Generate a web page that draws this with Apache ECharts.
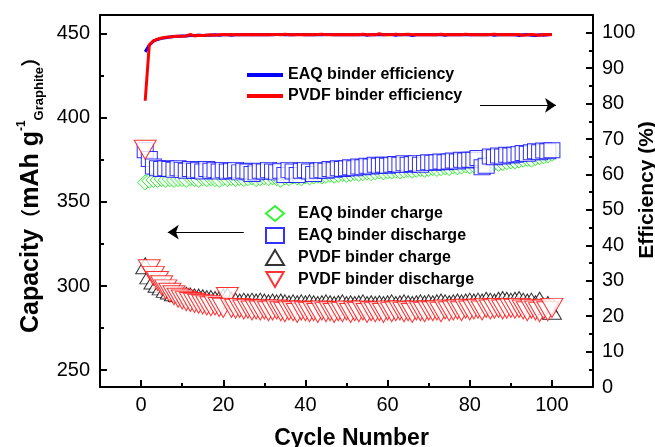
<!DOCTYPE html>
<html>
<head>
<meta charset="utf-8">
<script src="https://cdn.jsdelivr.net/npm/echarts@6/dist/echarts.min.js"></script>
<style>
html, body { margin: 0; padding: 0; background: #fff; }
#chart { width: 655px; height: 447px; }
</style>
</head>
<body>
<div id="chart"></div>
<script>
// cycle numbers
var cycles = [1, 2, 3, 4, 5, 6, 7, 8, 9, 10, 11, 12, 13, 14, 15, 16, 17, 18, 19, 20,
    21, 22, 23, 24, 25, 26, 27, 28, 29, 30, 31, 32, 33, 34, 35, 36, 37, 38, 39, 40,
    41, 42, 43, 44, 45, 46, 47, 48, 49, 50, 51, 52, 53, 54, 55, 56, 57, 58, 59, 60,
    61, 62, 63, 64, 65, 66, 67, 68, 69, 70, 71, 72, 73, 74, 75, 76, 77, 78, 79, 80,
    81, 82, 83, 84, 85, 86, 87, 88, 89, 90, 91, 92, 93, 94, 95, 96, 97, 98, 99, 100];

// coulombic efficiency (%)
var eaqEff = [94.6, 96.5, 97.6, 98.1, 98.4, 98.6, 98.8, 98.9, 99.0, 99.1,
    99.1, 99.2, 99.2, 99.3, 99.2, 99.3, 99.3, 99.4, 99.3, 99.4,
    99.4, 99.3, 99.4, 99.5, 99.4, 99.4, 99.5, 99.4, 99.5, 99.4,
    99.5, 99.4, 99.5, 99.5, 99.4, 99.5, 99.4, 99.5, 99.5, 99.4,
    99.5, 99.4, 99.5, 99.4, 99.5, 99.5, 99.4, 99.5, 99.4, 99.5,
    99.4, 99.5, 99.4, 99.5, 99.3, 99.5, 99.4, 99.5, 99.4, 99.5,
    99.5, 99.3, 99.5, 99.4, 99.5, 99.2, 99.4, 99.5, 99.4, 99.5,
    99.4, 99.5, 99.4, 99.3, 99.5, 99.4, 99.5, 99.4, 99.5, 99.4,
    99.5, 99.4, 99.5, 99.4, 99.5, 99.3, 99.4, 99.5, 99.4, 99.5,
    99.4, 99.2, 99.4, 99.5, 99.3, 99.2, 99.4, 99.3, 99.4, 99.5];
var pvdfEff = [80.8, 96.6, 97.7, 98.2, 98.5, 98.7, 98.8, 98.9, 99.0, 99.0,
    99.1, 99.5, 99.1, 99.3, 99.2, 99.3, 99.4, 99.3, 99.4, 99.5,
    99.4, 99.5, 99.4, 99.5, 99.4, 99.5, 99.4, 99.5, 99.4, 99.5,
    99.4, 99.5, 99.5, 99.4, 99.6, 99.4, 99.5, 99.4, 99.5, 99.4,
    99.5, 99.4, 99.5, 99.6, 99.4, 99.5, 99.4, 99.5, 99.4, 99.5,
    99.4, 99.5, 99.4, 99.6, 99.4, 99.5, 99.4, 99.7, 99.4, 99.5,
    99.4, 99.6, 99.4, 99.5, 99.6, 99.4, 99.5, 99.4, 99.5, 99.4,
    99.5, 99.4, 99.6, 99.4, 99.5, 99.4, 99.5, 99.4, 99.6, 99.4,
    99.5, 99.4, 99.5, 99.4, 99.5, 99.6, 99.4, 99.5, 99.4, 99.5,
    99.4, 99.5, 99.3, 99.4, 99.5, 99.4, 99.3, 99.5, 99.4, 99.5];

// capacity (mAh g-1)
var eaqCharge = [361.5, 362.5, 363, 363, 363.5, 363, 363.5, 363, 363.5, 363.5,
    363, 364, 363.5, 363, 364, 363.5, 364, 363.5, 363, 364,
    363.5, 364, 363.5, 364, 363.5, 364, 364.5, 363.5, 364, 364.5,
    364, 364.5, 364, 363, 364.5, 364, 365, 364.5, 364, 365,
    364.5, 365, 365.5, 365, 365.5, 366, 365.5, 366, 366.5, 366,
    366.5, 367, 366.5, 367, 367.5, 367, 367.5, 368, 367.5, 368,
    368, 368.5, 368, 368.5, 369, 368.5, 369, 369.5, 369, 369.5,
    370, 369.5, 370, 370.5, 370, 371, 370.5, 371, 371.5, 371,
    371.5, 372, 371.5, 372.5, 372, 373, 372.5, 373, 373.5, 374,
    374, 374.5, 375, 375.5, 375, 376, 376.5, 377, 377.5, 378.5];
var eaqDischarge = [380.6, 375.5, 371, 370, 369.5, 370, 369.5, 369, 370, 369,
    368.5, 369.5, 368.5, 369, 368, 369.5, 368.5, 369, 368, 369,
    368, 368.5, 369, 367.5, 368.5, 368, 366.5, 367.5, 368.5, 368,
    369, 368, 367.5, 368.5, 366, 369, 368, 366, 368.5, 369,
    368, 366.5, 368.5, 369, 368.5, 369.5, 369, 370, 369.5, 370,
    370.5, 370, 371, 370.5, 371.5, 371, 372, 371.5, 372, 371.5,
    372, 372.5, 372, 373, 372, 372.5, 373, 372, 373, 373.5,
    373, 373.5, 374, 373.5, 374, 374.5, 374, 375, 374.5, 375,
    375, 376, 370.5, 371.5, 377, 376.5, 377.5, 377, 378, 377.5,
    378, 378.5, 379, 378.5, 379.5, 380, 379.5, 380.5, 380, 380.6];
var pvdfCharge = [312, 306, 303, 301, 299.5, 298, 297, 296, 295.5, 295,
    294.5, 294, 293.5, 293.5, 293, 292.5, 292.5, 292, 292, 293.5,
    294, 291.5, 291, 290.5, 291, 290.5, 291, 290.5, 291, 290.5,
    290, 290.5, 290, 290.5, 290, 289.5, 290, 289.5, 290, 289.5,
    290, 289.5, 289, 289.5, 290, 289.5, 289, 289.5, 290, 289,
    289.5, 289, 289.5, 290, 289, 289.5, 289, 289.5, 289, 289.5,
    290, 289, 289.5, 290, 289.5, 289, 289.5, 290, 289.5, 290,
    289.5, 290, 290.5, 290, 289.5, 290, 290.5, 290, 290.5, 291,
    290.5, 291, 290.5, 291.5, 291, 290.5, 291.5, 292, 291.5, 291,
    291.5, 292, 291, 290.5, 291, 289.5, 291.5, 288, 289, 285];
var pvdfDischarge = [381, 310, 306, 303, 300.5, 298, 296, 294.5, 293, 292,
    291, 290.5, 290, 289.5, 289, 288.5, 288, 288.5, 287.5, 287,
    293.5, 287, 286.5, 287, 286, 286.5, 285.5, 286, 285.5, 286,
    285, 285.5, 286, 285, 284.5, 285.5, 285, 284, 285.5, 285,
    284.5, 285, 284, 285.5, 284.5, 285, 284, 285, 284.5, 285.5,
    284, 285, 284.5, 285.5, 284, 285, 284.5, 285, 284, 285.5,
    284.5, 285, 285.5, 284.5, 285, 284, 285.5, 285, 284.5, 285.5,
    285, 285.5, 284.5, 286, 285, 285.5, 286, 285, 286.5, 285.5,
    286, 286.5, 285.5, 287, 286, 286.5, 287, 286, 286.5, 287,
    286.5, 287, 286, 285, 286.5, 285.5, 284.5, 286, 285, 287];

// tick values
var xMajor = [0, 20, 40, 60, 80, 100];
var xMinor = [10, 30, 50, 70, 90];
var capMajor = [250, 300, 350, 400, 450];
var capMinor = [275, 325, 375, 425];
var effMajor = [0, 10, 20, 30, 40, 50, 60, 70, 80, 90, 100];
var effMinor = [5, 15, 25, 35, 45, 55, 65, 75, 85, 95];

function pairs(vals) {
    return vals.map(function (v, i) { return [cycles[i], v]; });
}

var font = 'Liberation Sans, Arial, sans-serif';
var downTriangle = 'path://M0,0L22,0L11,19Z';
var myChart = echarts.init(document.getElementById('chart'));

var lineAxis = { show: true, onZero: false, lineStyle: { color: '#000', width: 2 } };
var noLine = { show: false, onZero: false };
var labelStyle = { color: '#000', fontSize: 20, fontFamily: font };
var legendText = { color: '#000', fontSize: 16, fontWeight: 'bold', fontFamily: font };
var arrowLine = {
    silent: true, symbol: ['none', 'arrow'], symbolSize: 11,
    label: { show: false }, emphasis: { disabled: true },
    lineStyle: { color: '#000', width: 1, type: 'solid' }
};

option = {
    animation: false,
    backgroundColor: '#fff',
    grid: { left: 100, right: 62, top: 15, bottom: 60, outerBoundsMode: 'none', containLabel: false },
    legend: [{
        data: [{ name: 'EAQ binder efficiency', icon: 'rect' }, { name: 'PVDF binder efficiency', icon: 'rect' }],
        orient: 'vertical',
        left: 242, top: 62,
        itemWidth: 36, itemHeight: 4, itemGap: 5,
        selectedMode: false,
        textStyle: legendText
    }, {
        data: ['EAQ binder charge', 'EAQ binder discharge', 'PVDF binder charge', 'PVDF binder discharge'],
        orient: 'vertical',
        left: 260, top: 200,
        itemWidth: 18, itemHeight: 15, itemGap: 5,
        selectedMode: false,
        textStyle: Object.assign({ padding: [0, 0, 0, 9] }, legendText)
    }],
    xAxis: [{
        type: 'value', position: 'bottom', min: -10, max: 110,
        axisLine: lineAxis,
        axisTick: { inside: true, length: 7, lineStyle: { width: 2, color: '#000' }, customValues: xMajor },
        axisLabel: Object.assign({ margin: 8, customValues: xMajor }, labelStyle),
        splitLine: { show: false },
        name: 'Cycle Number', nameLocation: 'middle', nameGap: 40,
        nameTextStyle: { color: '#000', fontSize: 23, fontWeight: 'bold', fontFamily: font, padding: [0, 0, 0, 10] }
    }, {
        type: 'value', position: 'bottom', min: -10, max: 110,
        axisLine: noLine,
        axisTick: { inside: true, length: 4, lineStyle: { width: 2, color: '#000' }, customValues: xMinor },
        axisLabel: { show: false },
        splitLine: { show: false }
    }, {
        type: 'value', position: 'top', min: -10, max: 110,
        axisLine: lineAxis,
        axisTick: { show: false },
        axisLabel: { show: false },
        splitLine: { show: false }
    }],
    yAxis: [{
        type: 'value', position: 'left', min: 240, max: 461,
        axisLine: lineAxis,
        axisTick: { inside: true, length: 7, lineStyle: { width: 2, color: '#000' }, customValues: capMajor },
        axisLabel: Object.assign({ margin: 10, customValues: capMajor }, labelStyle),
        splitLine: { show: false },
        name: '{b|Capacity}{p|（}{b|mAh g}{sup|-1}{sub|Graphite}{p|）}',
        nameLocation: 'middle', nameGap: 53, nameRotate: 90,
        nameTextStyle: {
            color: '#000', fontFamily: font, fontWeight: 'bold', padding: [0, 0, 0, 22],
            rich: {
                b: { fontSize: 25, fontWeight: 'bold', fontFamily: font, color: '#000', lineHeight: 30 },
                p: { fontSize: 20, fontWeight: 'bold', fontFamily: 'Noto Sans CJK SC', color: '#000', lineHeight: 30 },
                sup: { fontSize: 12, fontWeight: 'bold', fontFamily: font, color: '#000', lineHeight: 12, verticalAlign: 'top' },
                sub: { fontSize: 13, fontWeight: 'bold', fontFamily: font, color: '#000', lineHeight: 13, verticalAlign: 'bottom' }
            }
        }
    }, {
        type: 'value', position: 'right', min: 0, max: 105,
        axisLine: lineAxis,
        axisTick: { inside: true, length: 7, lineStyle: { width: 2, color: '#000' }, customValues: effMajor },
        axisLabel: Object.assign({ margin: 9, customValues: effMajor }, labelStyle),
        splitLine: { show: false },
        name: 'Efficiency (%)', nameLocation: 'middle', nameGap: 44, nameRotate: 90,
        nameMoveOverlap: false,
        nameTextStyle: { color: '#000', fontSize: 21, fontWeight: 'bold', fontFamily: font, padding: [0, 0, 0, 22] }
    }, {
        type: 'value', position: 'left', min: 240, max: 461,
        axisLine: noLine,
        axisTick: { inside: true, length: 4, lineStyle: { width: 2, color: '#000' }, customValues: capMinor },
        axisLabel: { show: false },
        splitLine: { show: false }
    }, {
        type: 'value', position: 'right', min: 0, max: 105,
        axisLine: noLine,
        axisTick: { inside: true, length: 4, lineStyle: { width: 2, color: '#000' }, customValues: effMinor },
        axisLabel: { show: false },
        splitLine: { show: false }
    }],
    series: [{
        name: 'EAQ binder charge', type: 'scatter', xAxisIndex: 0, yAxisIndex: 0,
        data: pairs(eaqCharge),
        symbol: 'diamond', symbolSize: [15, 15],
        itemStyle: { color: '#fff', borderColor: '#00ee00', borderWidth: 1 },
        markLine: Object.assign({ data: [[{ coord: [25, 332] }, { coord: [6.5, 332] }]] }, arrowLine)
    }, {
        name: 'EAQ binder discharge', type: 'scatter', xAxisIndex: 0, yAxisIndex: 0,
        data: pairs(eaqDischarge),
        symbol: 'rect', symbolSize: [16, 15],
        itemStyle: { color: '#fff', borderColor: '#0000ff', borderWidth: 1 }
    }, {
        name: 'PVDF binder charge', type: 'scatter', xAxisIndex: 0, yAxisIndex: 0,
        data: pairs(pvdfCharge),
        symbol: 'triangle', symbolSize: [19, 16],
        itemStyle: { color: '#fff', borderColor: '#000', borderWidth: 1 }
    }, {
        name: 'PVDF binder discharge', type: 'scatter', xAxisIndex: 0, yAxisIndex: 0,
        data: pairs(pvdfDischarge),
        symbol: downTriangle, symbolSize: [22, 19],
        itemStyle: { color: '#fff', borderColor: '#ff0000', borderWidth: 1 }
    }, {
        name: 'EAQ binder efficiency', type: 'line', xAxisIndex: 0, yAxisIndex: 1,
        data: pairs(eaqEff),
        symbol: 'none',
        lineStyle: { color: '#0000ff', width: 3 },
        itemStyle: { color: '#0000ff' }
    }, {
        name: 'PVDF binder efficiency', type: 'line', xAxisIndex: 0, yAxisIndex: 1,
        data: pairs(pvdfEff),
        symbol: 'none',
        lineStyle: { color: '#ff0000', width: 3 },
        itemStyle: { color: '#ff0000' },
        markLine: Object.assign({ data: [[{ coord: [82.5, 79.5] }, { coord: [101, 79.5] }]] }, arrowLine)
    }]
};
myChart.setOption(option);
</script>
</body>
</html>
